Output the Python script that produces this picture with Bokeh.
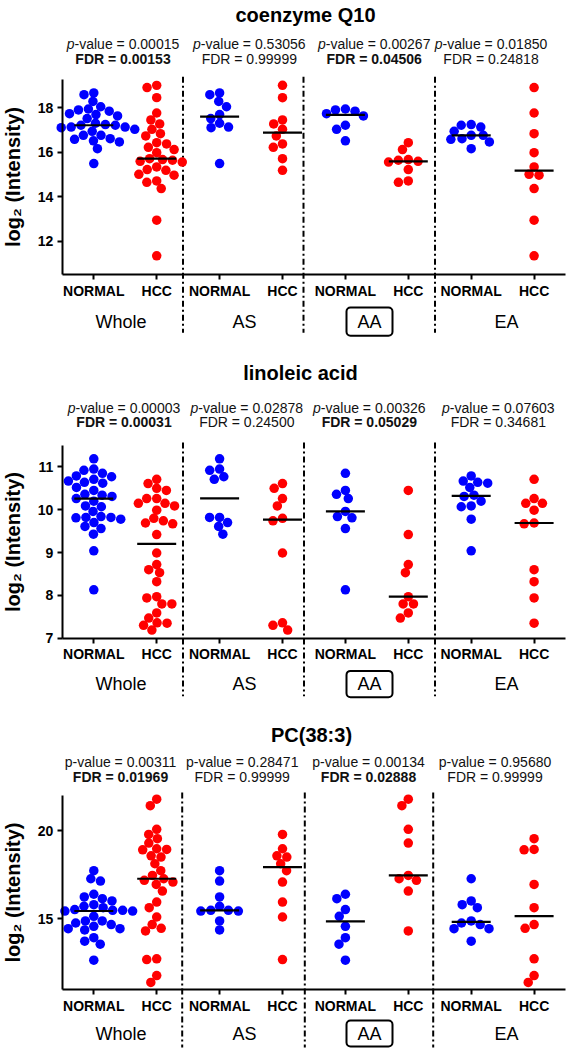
import numpy as np
from bokeh.plotting import figure
from bokeh.layouts import column
from bokeh.models import LinearAxis, FixedTicker, Range1d
from bokeh.core.properties import value
from bokeh.embed import file_html
from bokeh.resources import INLINE

FONT = "Liberation Sans"
BLUE = "#0000ff"
RED = "#ff0000"

TICK_LABELS = ["NORMAL", "HCC", "NORMAL", "HCC", "NORMAL", "HCC", "NORMAL", "HCC"]
GROUP_LABELS = ["Whole", "AS", "AA", "EA"]
Y_LABEL = "log\u2082 (Intensity)"

# ---------------- coenzyme Q10 ----------------
Q10_AS_NORMAL = [18.58, 18.66, 18.28, 18.04, 17.69, 17.51, 17.13, 17.10, 17.30, 15.49]
Q10_AS_HCC = [19.00, 18.45, 17.45, 17.27, 17.03, 16.73, 16.37, 16.22, 15.71, 15.19]
Q10_AA_NORMAL = [17.94, 17.63, 17.84, 17.73, 17.90, 17.21, 17.03, 16.51]
Q10_AA_HCC = [16.43, 16.12, 15.64, 15.56, 15.59, 15.67, 15.22, 14.65, 14.71]
Q10_EA_NORMAL = [17.13, 17.21, 17.24, 16.94, 16.58, 16.76, 16.76, 16.61, 16.46, 16.16]
Q10_EA_HCC = [18.90, 17.76, 16.83, 15.98, 15.34, 15.01, 14.97, 14.37, 12.95, 11.35]
Q10_P = ["0.00015", "0.53056", "0.00267", "0.01850"]
Q10_FDR = ["0.00153", "0.99999", "0.04506", "0.24818"]
Q10_FDR_BOLD = [True, False, True, False]

# ---------------- linoleic acid ----------------
LA_AS_NORMAL = [11.19, 10.92, 10.95, 10.71, 10.77, 9.82, 9.82, 9.70, 9.61, 9.43]
LA_AS_HCC = [10.50, 10.61, 10.26, 10.09, 9.74, 9.80, 8.99, 7.36, 7.19, 7.30]
LA_AA_NORMAL = [10.85, 10.36, 10.45, 10.26, 9.81, 9.96, 9.84, 9.56, 8.13]
LA_AA_HCC = [10.45, 9.42, 8.72, 8.53, 7.97, 7.80, 7.80, 7.47, 7.59]
LA_EA_NORMAL = [10.67, 10.79, 10.62, 10.52, 10.64, 10.34, 10.31, 10.07, 10.09, 10.20, 9.78, 9.04]
LA_EA_HCC = [10.71, 10.26, 10.15, 10.15, 9.99, 9.67, 9.69, 8.60, 8.32, 7.94, 7.35]
LA_P = ["0.00003", "0.02878", "0.00326", "0.07603"]
LA_FDR = ["0.00031", "0.24500", "0.05029", "0.34681"]
LA_FDR_BOLD = [True, False, True, False]

# ---------------- PC(38:3) ----------------
PC_AS_NORMAL = [17.74, 17.15, 16.25, 15.49, 15.45, 15.45, 15.49, 15.72, 14.89, 14.38]
PC_AS_HCC = [19.79, 18.98, 18.58, 18.51, 18.13, 17.74, 17.09, 15.96, 15.11, 12.70]
PC_AA_NORMAL = [16.15, 16.40, 15.53, 15.15, 14.58, 13.94, 13.57, 12.66]
PC_AA_HCC = [21.79, 21.42, 20.08, 19.30, 17.28, 17.19, 17.47, 16.58, 14.32]
PC_EA_NORMAL = [17.28, 16.02, 15.64, 15.81, 14.77, 14.45, 14.45, 14.68, 14.89, 13.74]
PC_EA_HCC = [19.55, 18.94, 18.92, 16.96, 15.64, 14.47, 14.68, 12.74, 11.79, 11.40]
PC_P = ["0.00311", "0.28471", "0.00134", "0.95680"]
PC_FDR = ["0.01969", "0.99999", "0.02888", "0.99999"]
PC_FDR_BOLD = [True, False, True, False]

# ---------------- layout (reference pixel geometry) ----------------
W = 570
X0_REF = 93.3     # x pixel of the first category
DX_REF = 62.9     # pixels between categories
GRP_X = [120.5, 244.0, 369.0, 506.0]

GEOM1 = dict(off=0, h=348, top=79.3, bot=274.3, title_x=305, title_base=21.7,
             p_base=48.3, f_base=63.3, p_x=[122.5, 248.8, 373.7, 490.5],
             div_x=[182.5, 303.0, 434.5], grp_base=53.5, box=(32.7, 61.0))
GEOM2 = dict(off=348, h=362, top=445.0, bot=637.7, title_x=300, title_base=379.3,
             p_base=412.7, f_base=426.7, p_x=[123.5, 246.3, 368.8, 497.8],
             div_x=[182.5, 303.5, 434.5], grp_base=52.0, box=(32.7, 59.0))
GEOM3 = dict(off=710, h=340, top=795.0, bot=989.0, title_x=311, title_base=741.7,
             p_base=766.7, f_base=781.7, p_x=[120.0, 241.7, 368.0, 494.5],
             div_x=[181.7, 304.3, 432.7], grp_base=51.0, box=(31.0, 57.0))

PANELS = [
    dict(title="coenzyme Q10", italic_p=True, y_lo=10.5, y_hi=19.25, yticks=[12, 14, 16, 18],
         sub=[(Q10_AS_NORMAL, Q10_AS_HCC), (Q10_AA_NORMAL, Q10_AA_HCC), (Q10_EA_NORMAL, Q10_EA_HCC)],
         pv=Q10_P, fdr=Q10_FDR, bold=Q10_FDR_BOLD, geom=GEOM1),
    dict(title="linoleic acid", italic_p=True, y_lo=7.0, y_hi=11.5, yticks=[7, 8, 9, 10, 11],
         sub=[(LA_AS_NORMAL, LA_AS_HCC), (LA_AA_NORMAL, LA_AA_HCC), (LA_EA_NORMAL, LA_EA_HCC)],
         pv=LA_P, fdr=LA_FDR, bold=LA_FDR_BOLD, geom=GEOM2),
    dict(title="PC(38:3)", italic_p=False, y_lo=11.0, y_hi=22.0, yticks=[15, 20],
         sub=[(PC_AS_NORMAL, PC_AS_HCC), (PC_AA_NORMAL, PC_AA_HCC), (PC_EA_NORMAL, PC_EA_HCC)],
         pv=PC_P, fdr=PC_FDR, bold=PC_FDR_BOLD, geom=GEOM3),
]


def swarm(vals_px, dx_min, dy_min):
    """Beeswarm x offsets (pixels): points need dx_min horizontal or dy_min vertical clearance."""
    ys = np.asarray(vals_px, dtype=float) * (dx_min / dy_min)
    d = dx_min
    offs = np.zeros(len(ys))
    placed = []
    for i in np.argsort(-ys, kind="stable"):
        y = ys[i]
        near = [(px, py) for px, py in placed if abs(py - y) < d]
        cands = [0.0]
        for px, py in near:
            dx = np.sqrt(max(d * d - (py - y) ** 2, 0.0))
            cands += [px + dx, px - dx]
        cands.sort(key=lambda c: (round(abs(c), 6), c))
        for c in cands:
            if all((c - px) ** 2 + (y - py) ** 2 >= d * d - 1e-6 for px, py in near):
                offs[i] = c
                break
        placed.append((offs[i], y))
    return offs


def make_panel(cfg):
    g = cfg["geom"]
    lo, hi = cfg["y_lo"], cfg["y_hi"]
    off, h, top, bot = g["off"], g["h"], g["top"], g["bot"]
    ppu = (bot - top) / (hi - lo)

    def xd(rx):
        return (rx - X0_REF) / DX_REF

    def yd(ry):
        return hi - (ry - top) / ppu

    def ty(base, fs):
        # y for a text whose alphabetic baseline sits at `base` (drawn with middle baseline)
        return yd(base - 0.35 * fs)

    p = figure(width=W, height=h,
               x_range=Range1d(xd(0), xd(W)),
               y_range=Range1d(yd(off + h), yd(off)),
               x_axis_location=None, y_axis_location=None,
               toolbar_location=None, output_backend="svg", min_border=0,
               outline_line_color=None)
    p.xgrid.visible = False
    p.ygrid.visible = False

    yax = LinearAxis(fixed_location=-0.5, bounds=(lo, hi), ticker=FixedTicker(ticks=cfg["yticks"]),
                     axis_label=Y_LABEL)
    xax = LinearAxis(fixed_location=lo, bounds=(-0.5, 7.5), ticker=FixedTicker(ticks=list(range(8))),
                     major_label_overrides={i: t for i, t in enumerate(TICK_LABELS)})
    for ax in (yax, xax):
        ax.axis_line_width = 2
        ax.axis_line_color = "black"
        ax.major_tick_line_width = 2
        ax.major_tick_line_color = "black"
        ax.major_tick_out = 5
        ax.major_tick_in = 0
        ax.minor_tick_out = 0
        ax.minor_tick_in = 0
        ax.major_label_text_font = FONT
        ax.major_label_text_font_style = "bold"
        ax.major_label_text_font_size = "14px"
        ax.major_label_text_color = "black"
    yax.major_label_standoff = 4
    xax.major_label_standoff = 3
    yax.axis_label_text_font = FONT
    yax.axis_label_text_font_style = "bold"
    yax.axis_label_text_font_size = "20px"
    yax.axis_label_text_color = "black"
    yax.axis_label_standoff = 11
    p.add_layout(yax, "left")
    p.add_layout(xax, "below")

    # group dividers
    dx = [xd(v) for v in g["div_x"]]
    p.segment(x0=dx, x1=dx, y0=[yd(top - 3)] * 3, y1=[yd(bot + 58)] * 3,
              line_color="black", line_width=2, line_dash="6 3 2 3")

    # data: Whole = union of the three subgroups
    normals = [v for s in cfg["sub"] for v in s[0]]
    hccs = [v for s in cfg["sub"] for v in s[1]]
    columns = [normals, hccs]
    for s in cfg["sub"]:
        columns += [list(s[0]), list(s[1])]

    for k, vals in enumerate(columns):
        vals = np.asarray(vals, dtype=float)
        offs = swarm(vals * ppu, 10.0, 8.5) / DX_REF
        color = BLUE if k % 2 == 0 else RED
        p.scatter(x=k + offs, y=vals, size=9.5, fill_color=color, line_color=None)
        med = float(np.median(vals))
        p.segment(x0=[k - 0.31], x1=[k + 0.31], y0=[med], y1=[med], line_color="black", line_width=2.2)

    # title
    p.text(x=[xd(g["title_x"])], y=[ty(g["title_base"], 20)], text=[cfg["title"]],
           text_font=value(FONT), text_font_style="bold", text_font_size="20px",
           text_align="center", text_baseline="middle", text_color="black")

    # p-values
    py = [ty(g["p_base"], 14)] * 4
    if cfg["italic_p"]:
        ax_ = [xd(c - 48.45) for c in g["p_x"]]
        p.text(x=ax_, y=py, text=["p"] * 4, text_font=value(FONT), text_font_style="italic",
               text_font_size="14px", text_align="right", text_baseline="middle", text_color="#111111")
        p.text(x=ax_, y=py, text=["-value = " + v for v in cfg["pv"]], text_font=value(FONT),
               text_font_size="14px", text_align="left", text_baseline="middle", text_color="#111111")
    else:
        p.text(x=[xd(c) for c in g["p_x"]], y=py, text=["p-value = " + v for v in cfg["pv"]],
               text_font=value(FONT), text_font_size="14px", text_align="center",
               text_baseline="middle", text_color="#111111")

    # FDR
    for want_bold in (True, False):
        idx = [i for i, b in enumerate(cfg["bold"]) if b == want_bold]
        if not idx:
            continue
        p.text(x=[xd(g["p_x"][i]) for i in idx], y=[ty(g["f_base"], 14)] * len(idx),
               text=["FDR = " + cfg["fdr"][i] for i in idx], text_font=value(FONT),
               text_font_style="bold" if want_bold else "normal", text_font_size="14px",
               text_align="center", text_baseline="middle", text_color="#111111")

    # group labels
    gy = ty(bot + g["grp_base"], 18)
    p.text(x=[xd(v) for v in GRP_X], y=[gy] * 4, text=GROUP_LABELS, text_font=value(FONT),
           text_font_size="18px", text_align="center", text_baseline="middle", text_color="black")
    # box around AA
    p.quad(left=[xd(GRP_X[2] - 23)], right=[xd(GRP_X[2] + 23)],
           top=[yd(bot + g["box"][0])], bottom=[yd(bot + g["box"][1])], fill_color=None,
           line_color="black", line_width=2, border_radius=4)
    return p


layout = column(*[make_panel(c) for c in PANELS])
open("out.html", "w").write(file_html(layout, INLINE))
